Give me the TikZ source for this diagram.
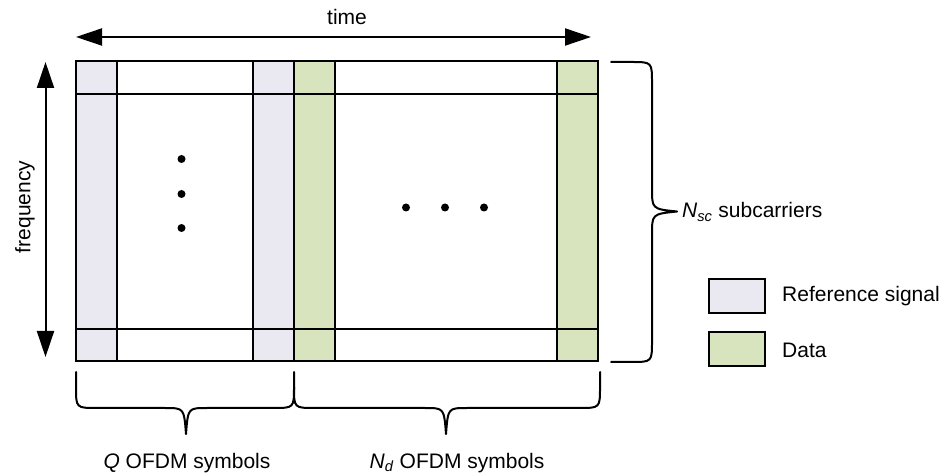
\documentclass[tikz,border=0pt]{standalone}
\usepackage{fontspec}
\setmainfont{Liberation Sans}
\usetikzlibrary{arrows.meta}
\definecolor{refc}{RGB}{234,232,241}
\definecolor{datac}{RGB}{215,228,189}
\tikzset{
  gridline/.style={line width=2bp, black},
  bigarrow/.style={line width=2bp, {Triangle[length=26bp,width=17bp]}-{Triangle[length=26bp,width=17bp]}},
  bracepath/.style={line width=2bp, line join=round, line cap=round},
  lbl/.style={font=\fontsize{21bp}{25bp}\selectfont, inner sep=0pt},
  dotmark/.style={circle, fill=black, inner sep=0pt, minimum size=8bp},
  legbox/.style={draw, line width=2bp, minimum width=56bp, minimum height=34bp, inner sep=0pt}
}
\begin{document}
\begin{tikzpicture}[x=1bp,y=-1bp]
\useasboundingbox (0,0) rectangle (945,474);
% columns
\fill[refc] (76,61) rectangle (117,361);
\fill[refc] (253,61) rectangle (294,361);
\fill[datac] (294,61) rectangle (335,361);
\fill[datac] (557,61) rectangle (598,361);
% grid lines
\draw[gridline] (76,61) rectangle (598,361);
\draw[gridline] (76,94) -- (598,94);
\draw[gridline] (76,329) -- (598,329);
\foreach \xx in {117,253,294,335,557} \draw[gridline] (\xx,61) -- (\xx,361);
% dots
\node[dotmark] (v1) at (181.5,159) {};
\node[dotmark] (v2) at (181.5,194) {};
\node[dotmark] (v3) at (181.5,228) {};
\node[dotmark] (h1) at (406,207.5) {};
\node[dotmark] (h2) at (445,207.5) {};
\node[dotmark] (h3) at (484,207.5) {};
% time arrow
\coordinate (tL) at (76,37);
\coordinate (tR) at (591,37);
\draw[bigarrow] (tL) -- (tR);
\node[lbl] (time) at (347,17) {time};
% frequency arrow
\coordinate (fT) at (45.5,62);
\coordinate (fB) at (45.5,357);
\draw[bigarrow] (fT) -- (fB);
\node[lbl, rotate=90] (freq) at (25,207) {frequency};
% bottom braces
\draw[bracepath] (76,372) -- (76,387) .. controls (76,408) .. (97,408) -- (165,408)
  .. controls (184,408) .. (186,434) .. controls (188,408) .. (207,408) -- (273,408)
  .. controls (294,408) .. (294,387) -- (294,372);
\draw[bracepath] (294,387) .. controls (294,408) .. (315,408) -- (425,408)
  .. controls (444,408) .. (446,434) .. controls (448,408) .. (467,408) -- (579,408)
  .. controls (600,408) .. (600,387) -- (600,372);
\node[lbl] (qlab) at (187,463) {\textit{Q} OFDM symbols};
\node[lbl] (ndlab) at (457,463) {\textit{N}\textsubscript{\textit{d}} OFDM symbols};
% right brace
\draw[bracepath] (611,62) -- (631,62) .. controls (652,62) .. (652,83) -- (652,188)
  .. controls (652,209) .. (677,211.5) .. controls (652,214) .. (652,235) -- (652,341)
  .. controls (652,362) .. (631,362) -- (611,362);
\node[lbl, anchor=west] (nsc) at (682,212) {\textit{N}\textsubscript{\textit{sc}} subcarriers};
% legend
\node[legbox, fill=refc] (legref) at (737,296) {};
\node[legbox, fill=datac] (legdata) at (737,349.5) {};
\node[lbl, anchor=west] (legreft) at (782,296) {Reference signal};
\node[lbl, anchor=west] (legdatat) at (782,350) {Data};
\end{tikzpicture}
\end{document}
